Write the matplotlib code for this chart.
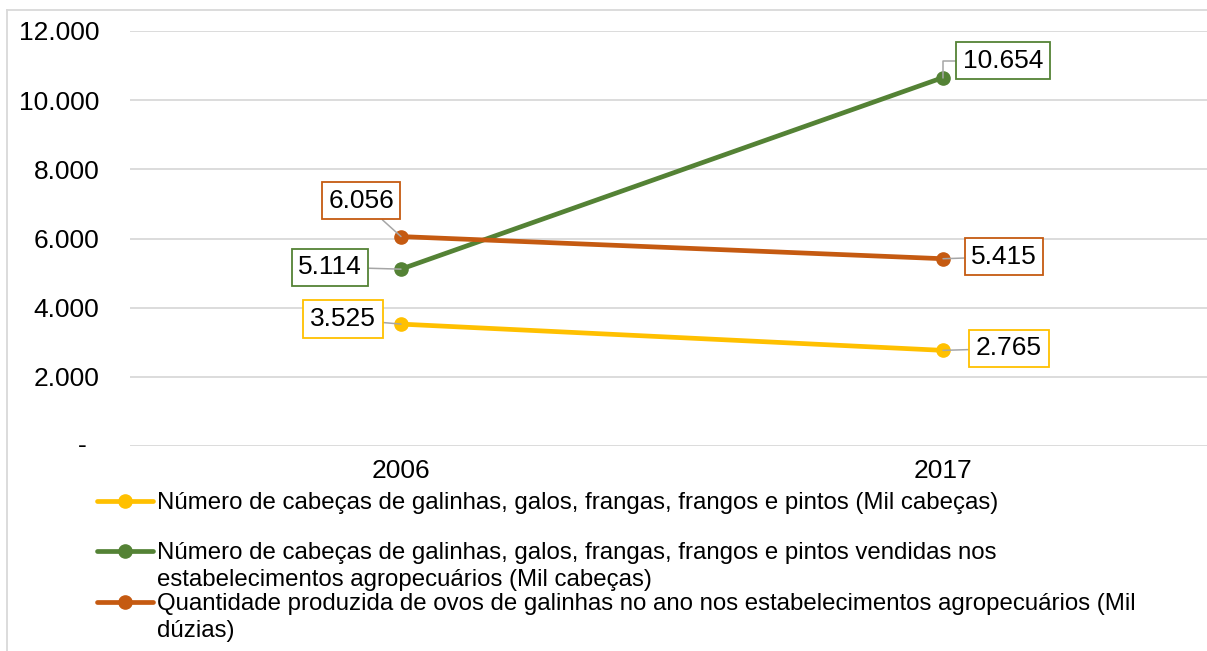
import matplotlib
matplotlib.use('Agg')
import matplotlib.pyplot as plt
from matplotlib.lines import Line2D

# Dados
anos = ['2006', '2017']
galinhas = [3525, 2765]
vendidas = [5114, 10654]
ovos = [6056, 5415]

rotulos = [
    'Número de cabeças de galinhas, galos, frangas, frangos e pintos (Mil cabeças)',
    'Número de cabeças de galinhas, galos, frangas, frangos e pintos vendidas nos\n'
    'estabelecimentos agropecuários (Mil cabeças)',
    'Quantidade produzida de ovos de galinhas no ano nos estabelecimentos agropecuários (Mil\n'
    'dúzias)',
]
yticks = [0, 2000, 4000, 6000, 8000, 10000, 12000]

cores = ['#FFC000', '#548235', '#C55A11']
series = [galinhas, vendidas, ovos]

# deslocamento (px) dos rótulos de dados em relação a cada ponto
offsets = [
    [(-58, 5), (66, 2)],
    [(-71, 2), (60, 17)],
    [(-40, 36), (61, 2)],
]

plt.rcParams['font.family'] = ['Liberation Sans', 'DejaVu Sans']
FS = 19
FS_LEG = 17.3
W, H = 1207, 651
fig = plt.figure(figsize=(W / 100, H / 100), dpi=100)
ax = fig.add_axes([130 / W, 1 - 446 / H, 1084 / W, (446 - 31) / H])

x = list(range(len(anos)))
for vals, cor, offs in zip(series, cores, offsets):
    ax.plot(x, vals, color=cor, lw=3.4, marker='o', markersize=9.5,
            solid_capstyle='round', zorder=3)
    for xi, v, (dx, dy) in zip(x, vals, offs):
        conn = 'arc3'
        if dy > 10 and dx > 0:
            conn = 'angle,angleA=0,angleB=90,rad=0'
        ax.annotate(f'{v:,}'.replace(',', '.'), (xi, v),
                    xytext=(dx * 0.72, dy * 0.72), textcoords='offset points',
                    ha='center', va='center', fontsize=FS, color='black',
                    bbox=dict(boxstyle='square,pad=0.25', fc='white', ec=cor, lw=1.3),
                    arrowprops=dict(arrowstyle='-', color='#A6A6A6', lw=1.1,
                                    shrinkA=0, shrinkB=0, connectionstyle=conn),
                    zorder=4)

ax.set_xlim(-0.5, 1.5)
ax.set_ylim(0, 12000)
ax.set_xticks(x)
ax.set_xticklabels(anos, fontsize=FS)
ax.set_yticks(yticks)
ax.set_yticklabels([f'{v:,}'.replace(',', '.') if v else '' for v in yticks], fontsize=FS)
ax.text(-48 / 1084, 0, '-', transform=ax.get_yaxis_transform(),
        ha='center', va='center', fontsize=FS)
ax.tick_params(axis='both', length=0)
ax.tick_params(axis='y', pad=22)
ax.tick_params(axis='x', pad=9)
ax.grid(axis='y', color='#D9D9D9', lw=1.3)
ax.set_axisbelow(True)
for s in ax.spines.values():
    s.set_visible(False)

# borda da área do gráfico
fig.add_artist(Line2D([7 / W, 7 / W], [0, 1 - 10 / H], color='#D9D9D9', lw=1.3))
fig.add_artist(Line2D([7 / W, 1], [1 - 10 / H, 1 - 10 / H], color='#D9D9D9', lw=1.3))

# legenda
base = [509, 559, 610]
for rot, cor, yb in zip(rotulos, cores, base):
    yh = 1 - (yb - 8) / H
    fig.add_artist(Line2D([97 / W, 153 / W], [yh, yh], color=cor, lw=3.4,
                          solid_capstyle='round'))
    fig.add_artist(Line2D([125 / W], [yh], color=cor, marker='o', markersize=9.5))
    for i, linha in enumerate(rot.split('\n')):
        fig.text(157 / W, 1 - (yb + 27 * i) / H, linha, fontsize=FS_LEG, va='baseline')

fig.savefig('out.png', dpi=100)
